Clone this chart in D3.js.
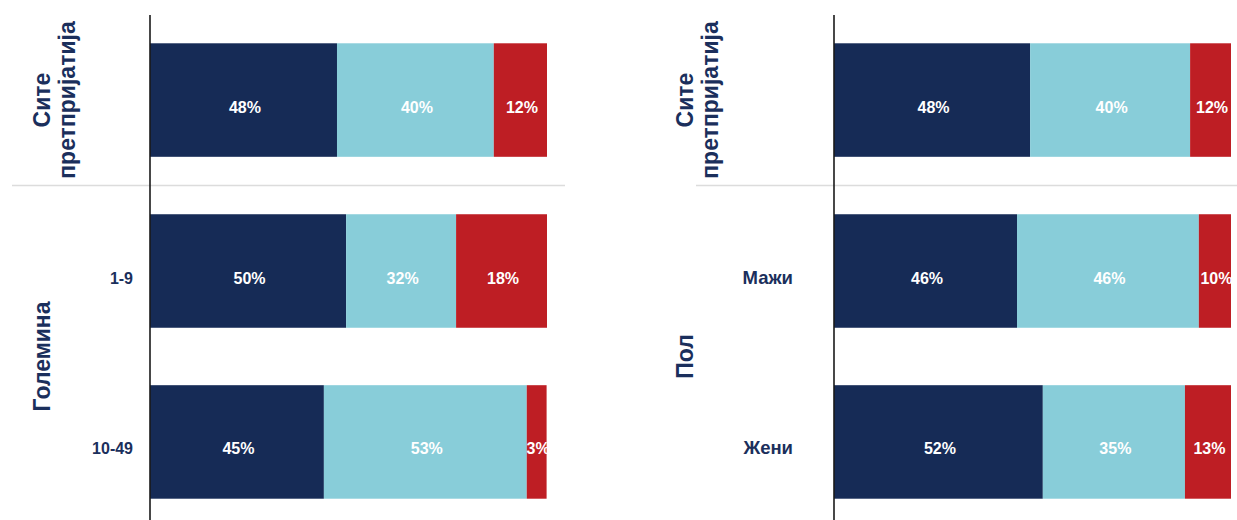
<!DOCTYPE html>
<html>
<head>
<meta charset="utf-8">
<script src="https://cdn.jsdelivr.net/npm/d3@7"></script>
<style>
  body { margin: 0; background: #fff; }
  svg { display: block; font-family: "Liberation Sans", Arial, sans-serif; }
</style>
</head>
<body>
<svg id="chart"></svg>
<script>
var width = 1237;
var height = 520;

var rows = ["all", "r2", "r3"];
var colors = ["#162b56", "#88cdd9", "#be1e24"];

// left panel: size classes
var leftCats = ["", "1-9", "10-49"];
var leftGroups = [["Сите", "претпријатија"], ["Големина"]];
var leftDark = [47.1, 49.4, 43.8];
var leftLight = [39.5, 27.7, 51.1];
var leftRed = [13.4, 22.9, 5.0];
var leftDarkLbl = [48, 50, 45];
var leftLightLbl = [40, 32, 53];
var leftRedLbl = [12, 18, 3];

// right panel: gender
var rightCats = ["", "Мажи", "Жени"];
var rightGroups = [["Сите", "претпријатија"], ["Пол"]];
var rightDark = [49.4, 46.1, 52.6];
var rightLight = [40.3, 45.8, 35.8];
var rightRed = [10.3, 8.1, 11.6];
var rightDarkLbl = [48, 46, 52];
var rightLightLbl = [40, 46, 35];
var rightRedLbl = [12, 10, 13];

var svg = d3.select("#chart").attr("width", width).attr("height", height);

var y = d3.scaleBand().domain(rows).range([15, 527])
  .paddingInner(0.336).paddingOuter(0.1655);

function drawPanel(p) {
  var g = svg.append("g");
  var x = d3.scaleLinear().domain([0, 100]).range([p.x0, p.x1]);
  var series = [p.dark, p.light, p.red];
  var lbls = [p.darkLbl, p.lightLbl, p.redLbl];

  // separator between "all" row and groups
  var sepY = (y("all") + y.bandwidth() + y("r2")) / 2;
  g.append("line")
    .attr("x1", p.sepStart).attr("x2", p.sepEnd)
    .attr("y1", sepY).attr("y2", sepY)
    .attr("stroke", "#dcdcdc").attr("stroke-width", 1.6);

  rows.forEach(function (r, i) {
    var acc = 0;
    for (var s = 0; s < 3; s++) {
      var v = series[s][i];
      g.append("rect")
        .attr("x", x(acc))
        .attr("y", y(r))
        .attr("width", x(acc + v) - x(acc))
        .attr("height", y.bandwidth())
        .attr("fill", colors[s]);
      g.append("text")
        .attr("x", x(acc + v / 2) + 1.5)
        .attr("y", y(r) + y.bandwidth() / 2 + 12.5)
        .attr("text-anchor", "middle")
        .attr("font-size", 16)
        .attr("font-weight", "bold")
        .attr("fill", "#fff")
        .text(lbls[s][i] + "%");
      acc += v;
    }
    if (p.cats[i]) {
      g.append("text")
        .attr("x", p.catX)
        .attr("y", y(r) + y.bandwidth() / 2 + 12.5)
        .attr("text-anchor", "end")
        .attr("font-size", p.catSize)
        .attr("font-weight", "bold")
        .attr("fill", "#1b2f5c")
        .text(p.cats[i]);
    }
  });

  // group titles, rotated
  var groupCenters = [
    y("all") + y.bandwidth() / 2,
    (y("r2") + y("r3") + y.bandwidth()) / 2
  ];
  p.groups.forEach(function (lines, gi) {
    lines.forEach(function (t, li) {
      g.append("text")
        .attr("transform", "translate(" + (p.titleX + li * 25) + "," + groupCenters[gi] + ") rotate(-90)")
        .attr("text-anchor", "middle")
        .attr("font-size", 23)
        .attr("font-weight", "bold")
        .attr("fill", "#1b2f5c")
        .text(t);
    });
  });

  // vertical axis line
  g.append("line")
    .attr("x1", p.x0).attr("x2", p.x0)
    .attr("y1", 15).attr("y2", height)
    .attr("stroke", "#1a1a1a").attr("stroke-width", 1.6);
}

drawPanel({
  x0: 150, x1: 547, sepStart: 12, sepEnd: 565, catX: 133, catSize: 16, titleX: 50,
  cats: leftCats, groups: leftGroups,
  dark: leftDark, light: leftLight, red: leftRed,
  darkLbl: leftDarkLbl, lightLbl: leftLightLbl, redLbl: leftRedLbl
});

drawPanel({
  x0: 834, x1: 1231, sepStart: 696, sepEnd: 1237, catX: 793, catSize: 18.5, titleX: 693,
  cats: rightCats, groups: rightGroups,
  dark: rightDark, light: rightLight, red: rightRed,
  darkLbl: rightDarkLbl, lightLbl: rightLightLbl, redLbl: rightRedLbl
});
</script>
</body>
</html>
